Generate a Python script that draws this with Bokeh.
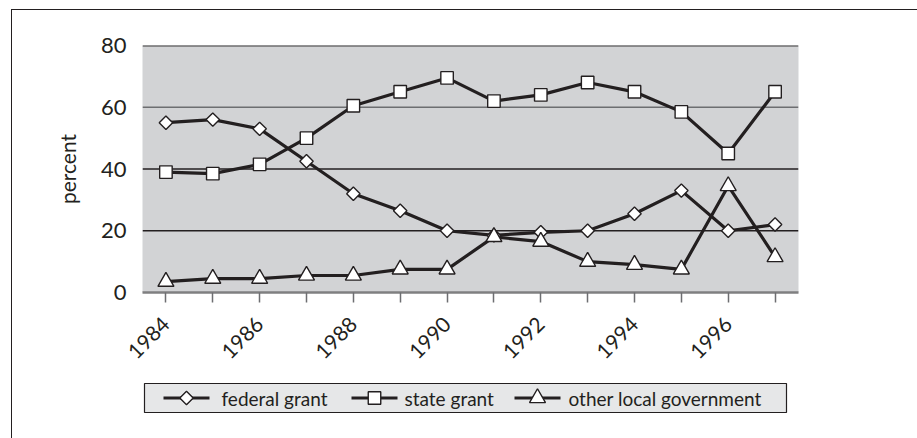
from bokeh.plotting import figure
from bokeh.layouts import column
from bokeh.models import Span, FixedTicker, Range1d
from bokeh.core.properties import value
from bokeh.embed import file_html
from bokeh.resources import INLINE

years = [1984, 1985, 1986, 1987, 1988, 1989, 1990, 1991, 1992, 1993, 1994, 1995, 1996, 1997]
federal_grant = [55, 56, 53, 42.5, 32, 26.5, 20, 18.5, 19.5, 20, 25.5, 33, 20, 22]
state_grant = [39, 38.5, 41.5, 50, 60.5, 65, 69.5, 62, 64, 68, 65, 58.5, 45, 65]
other_local = [3.5, 4.5, 4.5, 5.5, 5.5, 7.5, 7.5, 18, 16.5, 10, 9, 7.5, 34.5, 11.5]
series_names = ["federal grant", "state grant", "other local government"]
y_ticks = [0, 20, 40, 60, 80]
x_labels = {y: (str(y) if y % 2 == 0 else "") for y in years}

FONT = "Lato"
INK = "#231f20"

W = 906
H1 = 367
H2 = 429 - H1
FRAME_W = W - 130 - 120

p = figure(width=W, height=H1, output_backend="svg", toolbar_location=None,
           x_range=Range1d(years[0] - 0.5, years[-1] + 0.5),
           y_range=Range1d(y_ticks[0], y_ticks[-1]),
           min_border_left=130, min_border_right=120, min_border_top=35,
           min_border_bottom=85, margin=0)
p.background_fill_color = "#d2d3d5"
p.border_fill_color = "white"
p.outline_line_color = None
p.xgrid.grid_line_color = None
p.ygrid.grid_line_color = None

grid_colors = {20: INK, 40: INK, 60: "#6d6e71", 80: "#3a3a3a"}
for t in y_ticks[1:]:
    p.add_layout(Span(location=t, dimension="width", line_color=grid_colors[t],
                      line_width=1.3 if t != 80 else 1.8, level="underlay"))

# x axis
p.xaxis.ticker = FixedTicker(ticks=years)
p.xaxis.major_label_overrides = {y: s for y, s in x_labels.items()}
p.xaxis.major_label_orientation = 0.785398
p.xaxis.major_label_text_font = FONT
p.xaxis.major_label_text_font_size = "21px"
p.xaxis.major_label_text_color = INK
p.xaxis.major_label_standoff = 18
p.xaxis.axis_line_color = "#7f7f80"
p.xaxis.axis_line_width = 2.5
p.xaxis.major_tick_line_color = "#6d6e71"
p.xaxis.major_tick_line_width = 1.5
p.xaxis.major_tick_out = 10
p.xaxis.major_tick_in = 0
p.xaxis.minor_tick_line_color = None

# y axis
p.yaxis.ticker = FixedTicker(ticks=y_ticks)
p.yaxis.axis_line_color = None
p.yaxis.major_tick_line_color = None
p.yaxis.minor_tick_line_color = None
p.yaxis.major_label_text_font = FONT
p.yaxis.major_label_text_font_size = "22px"
p.yaxis.major_label_text_color = INK
p.yaxis.major_label_standoff = 10
p.yaxis.axis_label = "percent"
p.yaxis.axis_label_text_font = FONT
p.yaxis.axis_label_text_font_size = "21px"
p.yaxis.axis_label_text_font_style = "normal"
p.yaxis.axis_label_text_color = INK
p.yaxis.axis_label_standoff = 18

markers = [("square", 9.5, 0.785398), ("square", 12.5, 0.0), ("triangle", 16, 0.0)]
for vals, (marker, size, ang) in zip([federal_grant, state_grant, other_local], markers):
    p.line(years, vals, line_color=INK, line_width=3.2)
    p.scatter(years, vals, marker=marker, size=size, angle=ang, fill_color="white",
              line_color=INK, line_width=1.4)

# legend strip: a pixel-scaled plot whose frame is aligned with the chart's frame
q = figure(width=W, height=H2, output_backend="svg", toolbar_location=None,
           x_range=Range1d(0, FRAME_W), y_range=Range1d(0, H2),
           min_border_left=0, min_border_right=0, min_border_top=0, min_border_bottom=0,
           margin=0)
q.axis.visible = False
q.grid.grid_line_color = None
q.outline_line_color = None
q.background_fill_color = "white"
q.border_fill_color = "white"

box_top = H2 - 6
box_bottom = H2 - 35
yc = (box_top + box_bottom) / 2
q.quad(left=2, right=644, bottom=box_bottom, top=box_top, fill_color="#e6e7e8",
       line_color=INK, line_width=1.2)

glyph_x = [21, 209, 372]
text_x = [79, 262, 426]
for name, gx, tx, (marker, size, ang) in zip(series_names, glyph_x, text_x, markers):
    q.line([gx, gx + 46], [yc, yc], line_color=INK, line_width=3.2)
    q.scatter([gx + 23], [yc], marker=marker, size=size, angle=ang, fill_color="white",
              line_color=INK, line_width=1.4)
    q.text([tx], [yc], text=[name], text_font=value(FONT), text_font_size="19px",
           text_color=INK, text_baseline="middle", text_align="left")

layout = column(p, q, spacing=0, margin=(9, 0, 0, 11))
layout.styles = {"border-left": "1.5px solid #231f20", "border-top": "1.5px solid #231f20"}

open("out.html", "w").write(file_html(layout, INLINE))
